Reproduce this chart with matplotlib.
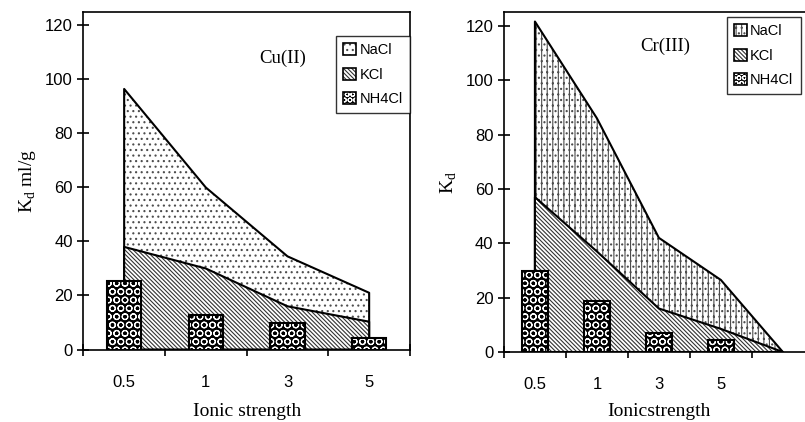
import numpy as np
import matplotlib.pyplot as plt
from matplotlib.patches import Patch
from matplotlib.legend_handler import HandlerTuple

plt.rcParams['font.family'] = 'Liberation Sans'
plt.rcParams['hatch.linewidth'] = 0.8

# Cu(II) panel
cu_labels = ['0.5', '1', '3', '5']
cu_nacl = [96.5, 60, 34.5, 21]
cu_kcl = [38, 30, 16, 10.3]
cu_nh4cl = [25.5, 12.8, 9.7, 4.4]

# Cr(III) panel (last category has no label, areas fall to zero)
cr_labels = ['0.5', '1', '3', '5', '']
cr_nacl = [121.6, 86, 42, 26.5, 0]
cr_kcl = [57, 37, 16, 8.5, 0]
cr_nh4cl = [29.9, 18.6, 7.1, 4.4]

serif = 'Liberation Serif'
kcl_hatch = '\\' * 8
bar_hatch = 'OO'


def draw_panel(ax, labels, nacl, kcl, nh4cl, nacl_hatch):
    n = len(labels)
    x = np.arange(len(nacl))
    # NaCl area (back)
    ax.fill_between(x, 0, nacl, facecolor='white', edgecolor='#4d4d4d',
                    hatch=nacl_hatch, linewidth=0, zorder=1)
    ax.fill_between(x, 0, nacl, facecolor='none', edgecolor='black',
                    linewidth=1.5, zorder=2)
    # KCl area (front)
    ax.fill_between(x, 0, kcl, facecolor='white', edgecolor='#333333',
                    hatch=kcl_hatch, linewidth=0, zorder=3)
    ax.fill_between(x, 0, kcl, facecolor='none', edgecolor='black',
                    linewidth=1.5, zorder=4)
    # NH4Cl bars
    xb = np.arange(len(nh4cl))
    ax.bar(xb, nh4cl, width=0.42, color='black', linewidth=0, zorder=5)
    ax.bar(xb, nh4cl, width=0.42, facecolor='none', edgecolor='white',
           hatch=bar_hatch, linewidth=0, zorder=6)
    ax.bar(xb, nh4cl, width=0.42, facecolor='none', edgecolor='black',
           linewidth=1.5, zorder=7)

    ax.set_xlim(-0.5, n - 0.5)
    ax.set_ylim(0, 125)
    ax.set_yticks(range(0, 121, 20))
    ax.set_xticks(np.arange(n + 1) - 0.5)
    ax.set_xticklabels([])
    ax.set_xticks(np.arange(n), minor=True)
    ax.set_xticklabels(labels, minor=True)
    ax.tick_params(axis='both', which='major', direction='inout', length=8,
                   width=1.2, labelsize=12)
    ax.tick_params(axis='x', which='minor', length=0, pad=18, labelsize=12)
    for s in ax.spines.values():
        s.set_linewidth(1.2)


def legend_handles(nacl_hatch):
    nacl_h = (Patch(facecolor='white', edgecolor='#4d4d4d', hatch=nacl_hatch, linewidth=0),
              Patch(facecolor='none', edgecolor='black', linewidth=1.2))
    kcl_h = (Patch(facecolor='white', edgecolor='#333333', hatch=kcl_hatch, linewidth=0),
             Patch(facecolor='none', edgecolor='black', linewidth=1.2))
    nh4_h = (Patch(facecolor='black', linewidth=0),
             Patch(facecolor='none', edgecolor='white', hatch='OOO', linewidth=0),
             Patch(facecolor='none', edgecolor='black', linewidth=1.2))
    return [nacl_h, kcl_h, nh4_h]


fig = plt.figure(figsize=(8.05, 4.22), dpi=100)
ax1 = fig.add_axes([0.1035, 0.1718, 0.4058, 0.7998])
ax2 = fig.add_axes([0.626, 0.1659, 0.385, 0.805])

draw_panel(ax1, cu_labels, cu_nacl, cu_kcl, cu_nh4cl, '...')
draw_panel(ax2, cr_labels, cr_nacl, cr_kcl, cr_nh4cl, '|||...')

ax1.set_xlabel('Ionic strength', family=serif, fontsize=14, labelpad=10)
ax2.set_xlabel('Ionicstrength', family=serif, fontsize=14, labelpad=8)
ax1.set_ylabel('K$_\\mathregular{d}$ ml/g', family=serif, fontsize=14, labelpad=5)
ax2.set_ylabel('K$_\\mathregular{d}$', family=serif, fontsize=14, labelpad=5)

ax1.text(0.611, 0.864, 'Cu(II)', transform=ax1.transAxes, family=serif,
         fontsize=13.5, ha='center', va='center')
ax2.text(0.52, 0.90, 'Cr(III)', transform=ax2.transAxes, family=serif,
         fontsize=13.5, ha='center', va='center')

names = ['NaCl', 'KCl', 'NH4Cl']
for ax, hatch, anchor in [(ax1, '...', (0.4174, 0.9147)),
                          (ax2, '|||...', (0.903, 0.9597))]:
    leg = ax.legend(legend_handles(hatch), names, loc='upper left',
                    bbox_to_anchor=anchor, bbox_transform=fig.transFigure,
                    handler_map={tuple: HandlerTuple(ndivide=1)},
                    fontsize=10.5, frameon=True, fancybox=False,
                    handlelength=0.9, handleheight=0.9, handletextpad=0.2,
                    labelspacing=0.7, borderpad=0.5, borderaxespad=0)
    leg.get_frame().set_edgecolor('black')
    leg.get_frame().set_linewidth(1.0)
    leg.set_zorder(10)

fig.savefig('out.png', dpi=100)
